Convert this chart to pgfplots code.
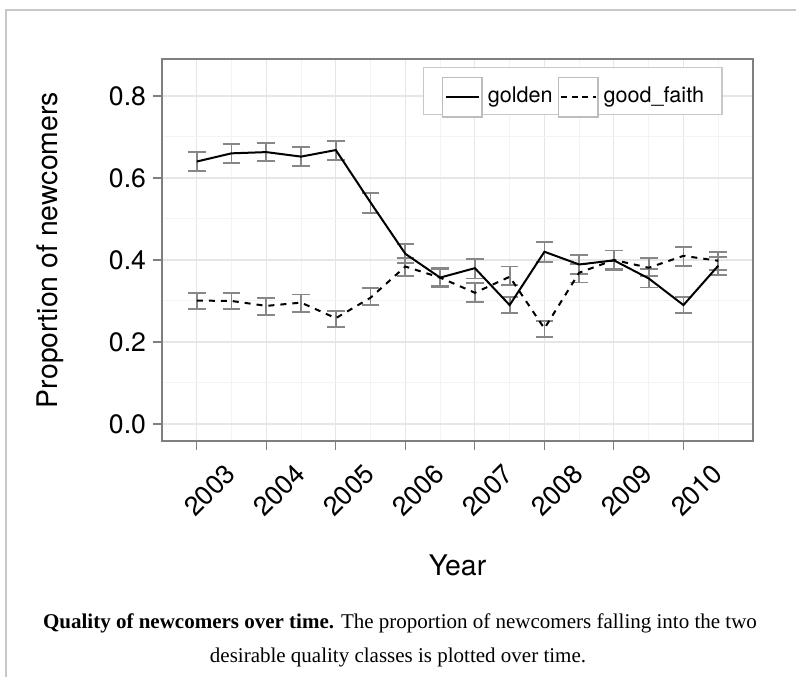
\documentclass[border=0pt]{standalone}
\usepackage{pgfplots}
\pgfplotsset{compat=1.18}
\usepackage{pgfplotstable}
\usepackage{fontspec}
\setmainfont{TeX Gyre Heros}
\newfontfamily\capfont{Liberation Serif}

\definecolor{panelgray}{HTML}{7F7F7F}
\definecolor{majorgrid}{HTML}{E6E6E6}
\definecolor{minorgrid}{HTML}{F3F3F3}
\definecolor{errgray}{HTML}{878787}
\definecolor{framegray}{HTML}{C8C8C8}
\definecolor{keygray}{HTML}{BDBDBD}

% legend key: grey square holding a line sample
\setlength{\fboxsep}{0pt}
\setlength{\fboxrule}{0.8pt}
\newcommand{\keybox}[1]{\fcolorbox{keygray}{white}{\parbox[c][18.9pt][c]{18.9pt}{\centering #1}}}
\newcommand{\solidkey}{\rule[-0.5pt]{16.5pt}{1pt}}
\newcommand{\dashkey}{\rule[-0.5pt]{3pt}{1pt}\hspace{2.4pt}\rule[-0.5pt]{3pt}{1pt}\hspace{2.4pt}\rule[-0.5pt]{3pt}{1pt}\hspace{2.4pt}\rule[-0.5pt]{1.2pt}{1pt}}

% year  proportion  upper  lower
\pgfplotstableread{
x      y      hi     lo
2003   0.640  0.663  0.616
2003.5 0.660  0.683  0.636
2004   0.663  0.686  0.641
2004.5 0.652  0.675  0.629
2005   0.668  0.690  0.644
2005.5 0.540  0.564  0.515
2006   0.415  0.439  0.392
2006.5 0.357  0.380  0.333
2007   0.380  0.402  0.355
2007.5 0.290  0.310  0.270
2008   0.420  0.443  0.396
2008.5 0.389  0.412  0.366
2009   0.399  0.423  0.376
2009.5 0.355  0.378  0.333
2010   0.290  0.310  0.270
2010.5 0.386  0.408  0.364
}\golden

\pgfplotstableread{
x      y      hi     lo
2003   0.301  0.320  0.280
2003.5 0.300  0.320  0.280
2004   0.288  0.307  0.266
2004.5 0.296  0.316  0.274
2005   0.258  0.276  0.236
2005.5 0.308  0.331  0.290
2006   0.384  0.405  0.361
2006.5 0.357  0.378  0.336
2007   0.320  0.343  0.298
2007.5 0.359  0.384  0.339
2008   0.233  0.252  0.213
2008.5 0.369  0.390  0.345
2009   0.400  0.423  0.378
2009.5 0.381  0.404  0.360
2010   0.410  0.432  0.386
2010.5 0.398  0.420  0.376
}\goodfaith

\pgfplotsset{
  ci bars/.style={
    forget plot, draw=none, mark=none,
    error bars/.cd, y dir=both, y explicit,
    error mark=-,
    error bar style={draw=errgray, solid, line width=0.9pt},
    error mark options={draw=errgray, solid, line width=0.9pt, mark size=4.4pt, rotate=90},
  },
}

\begin{document}
\begin{tikzpicture}
\useasboundingbox (0,0) rectangle (398pt,-338.5pt);
% figure frame
\draw[framegray, line width=0.6pt] (3pt,-338.5pt) -- (3pt,-5pt) -- (398pt,-5pt);

\begin{axis}[
  at={(81pt,-29.5pt)}, anchor=north west,
  scale only axis, width=295.5pt, height=191pt,
  xmin=2002.5, xmax=2011.0, ymin=-0.0415, ymax=0.890,
  xtick={2003,2004,...,2010},
  xticklabels={2003,2004,2005,2006,2007,2008,2009,2010},
  ytick={0,0.2,0.4,0.6,0.8},
  yticklabels={0.0,0.2,0.4,0.6,0.8},
  minor xtick={2003.5,2004.5,...,2010.5},
  minor ytick={0.1,0.3,0.5,0.7},
  grid=both,
  major grid style={majorgrid, line width=0.6pt},
  minor grid style={minorgrid, line width=0.5pt},
  tick pos=left, tick align=outside,
  major tick length=4.5pt, minor tick length=0pt,
  tick style={panelgray, line width=0.6pt},
  axis line style={panelgray, line width=0.7pt},
  ticklabel style={font=\fontsize{13.3}{15}\selectfont},
  xticklabel style={anchor=center, xshift=6.5pt, yshift=-20pt, rotate=45},
  every axis y label/.style={at={(axis description cs:-0.19,0.5)}, rotate=90, anchor=center},
  every axis x label/.style={at={(axis description cs:0.5,0)}, yshift=-62pt, anchor=center},
  label style={font=\fontsize{14.2}{16}\selectfont},
  xlabel={Year},
  ylabel={Proportion of newcomers},
  legend columns=2,
  legend style={at={(axis description cs:0.949,0.979)}, anchor=north east,
    draw=framegray, line width=0.7pt, fill=white,
    inner xsep=9pt, inner ysep=4.5pt,
    font=\fontsize{10.8}{12}\selectfont,
    nodes={inner sep=0pt},
    /tikz/every odd column/.append style={column sep=0pt},
    /tikz/every even column/.append style={column sep=2.5pt}},
]
% error bars first, lines on top
\addplot[ci bars] table[x=x, y=y, y error plus expr=\thisrow{hi}-\thisrow{y}, y error minus expr=\thisrow{y}-\thisrow{lo}] {\golden};
\addplot[ci bars] table[x=x, y=y, y error plus expr=\thisrow{hi}-\thisrow{y}, y error minus expr=\thisrow{y}-\thisrow{lo}] {\goodfaith};

\addplot[forget plot, black, line width=1pt, mark=none] table[x=x, y=y] {\golden};
\addplot[forget plot, black, line width=1pt, mark=none, dash pattern=on 3pt off 3pt] table[x=x, y=y] {\goodfaith};

% legend entries carry their own boxed key
\addlegendimage{legend image code/.code={}}
\addlegendentry{\keybox{\solidkey}\hspace{2.5pt}golden}
\addlegendimage{legend image code/.code={}}
\addlegendentry{\keybox{\dashkey}\hspace{2.5pt}good\_faith}
\end{axis}

% caption
\node[anchor=base, font=\capfont\fontsize{10.5}{12}\selectfont] at (200pt,-314pt)
  {\textbf{Quality of newcomers over time.} The proportion of newcomers falling into the two};
\node[anchor=base, font=\capfont\fontsize{10.5}{12}\selectfont] at (199pt,-331pt)
  {desirable quality classes is plotted over time.};
\end{tikzpicture}
\end{document}
